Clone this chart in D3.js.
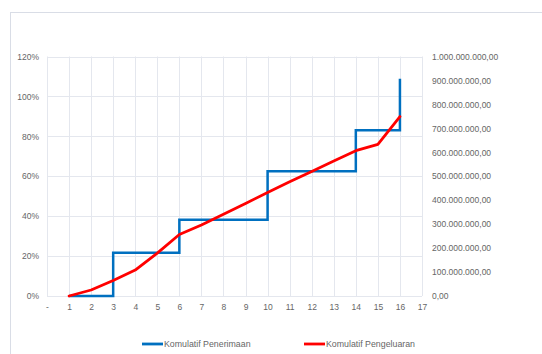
<!DOCTYPE html>
<html><head><meta charset="utf-8">
<script src="https://cdn.jsdelivr.net/npm/d3@7"></script>
<style>body{margin:0;background:#fff}svg{display:block}text{font-family:"Liberation Sans",Arial,sans-serif;fill:#666}</style>
</head><body><svg id="c" width="542" height="354"></svg>
<script>
const weeks = [1,2,3,4,5,6,7,8,9,10,11,12,13,14,15,16];
const penerimaan = [0,0,21.7,21.7,21.7,38.2,38.2,38.2,38.2,62.5,62.5,62.5,62.5,83,83,108.8];
const pengeluaran = [0,3,7.8,13,21.5,30.8,35.6,41,46.4,51.8,57.2,62.4,67.6,72.8,76,89.9];
const xTicks = d3.range(0,18);
const yLeftTicks = [0,20,40,60,80,100,120];
const yRightTicks = d3.range(0,1000000001,100000000);
const seriesNames = ["Komulatif Penerimaan","Komulatif Pengeluaran"];
const colors = ["#0070C0","#FF0000"];

const svg = d3.select("#c");
svg.append("rect").attr("x",10.5).attr("y",12.5).attr("width",540).attr("height",350)
  .attr("fill","none").attr("stroke","#d9dde6");

const L=47, R=422, T=56.5, B=296;
const x = d3.scaleLinear().domain([0,17]).range([L,R]);
const y = d3.scaleLinear().domain([0,120]).range([B,T]);
const y2 = d3.scaleLinear().domain([0,1000000000]).range([B,T]);

const g = svg.append("g");
g.selectAll("line.v").data(xTicks).join("line")
  .attr("x1",d=>Math.round(x(d))+0.5).attr("x2",d=>Math.round(x(d))+0.5)
  .attr("y1",T).attr("y2",B).attr("stroke","#e4e7ee").attr("stroke-width",1);
g.selectAll("line.h").data(yLeftTicks).join("line")
  .attr("y1",d=>Math.round(y(d))+0.5).attr("y2",d=>Math.round(y(d))+0.5)
  .attr("x1",L).attr("x2",R).attr("stroke","#e4e7ee").attr("stroke-width",1);

const fmtPct = d=>d+"%";
const la = svg.append("g").attr("transform",`translate(${L-8},0)`)
  .call(d3.axisLeft(y).tickValues(yLeftTicks).tickFormat(fmtPct).tickSize(0).tickPadding(0));
la.select(".domain").remove();
la.selectAll("text").attr("font-size",8.5).style("font-family","Liberation Sans").attr("fill","#666");

const fmtId = d=>{
  const s = d3.format(",.2f")(d);
  return s.replace(/,/g,"#").replace(".",",").replace(/#/g,".");
};
const ra = svg.append("g").attr("transform",`translate(${432},0)`)
  .call(d3.axisRight(y2).tickValues(yRightTicks).tickFormat(fmtId).tickSize(0).tickPadding(0));
ra.select(".domain").remove();
ra.selectAll("text").attr("font-size",8.5).style("font-family","Liberation Sans").attr("fill","#666");

const ba = svg.append("g").attr("transform",`translate(0,${B+8})`)
  .call(d3.axisBottom(x).tickValues(xTicks).tickFormat(d=>d===0?"-":d).tickSize(0).tickPadding(0));
ba.select(".domain").remove();
ba.selectAll("text").attr("font-size",8.5).style("font-family","Liberation Sans").attr("fill","#666");

const lineStep = d3.line().x((d,i)=>x(weeks[i])).y(d=>y(d)).curve(d3.curveStepAfter);
const lineStraight = d3.line().x((d,i)=>x(weeks[i])).y(d=>y(d));
svg.append("path").attr("d",lineStep(penerimaan)).attr("fill","none")
  .attr("stroke",colors[0]).attr("stroke-width",2.5).attr("stroke-linejoin","miter");
svg.append("path").attr("d",lineStraight(pengeluaran)).attr("fill","none")
  .attr("stroke",colors[1]).attr("stroke-width",2.8).attr("stroke-linejoin","round").attr("stroke-linecap","round");

const legX = [142,304];
const leg = svg.append("g");
seriesNames.forEach((n,i)=>{
  leg.append("line").attr("x1",legX[i]).attr("x2",legX[i]+21).attr("y1",344).attr("y2",344)
    .attr("stroke",colors[i]).attr("stroke-width",2.8);
  leg.append("text").attr("x",legX[i]+22).attr("y",347).attr("font-size",8.8).text(n);
});
</script></body></html>
